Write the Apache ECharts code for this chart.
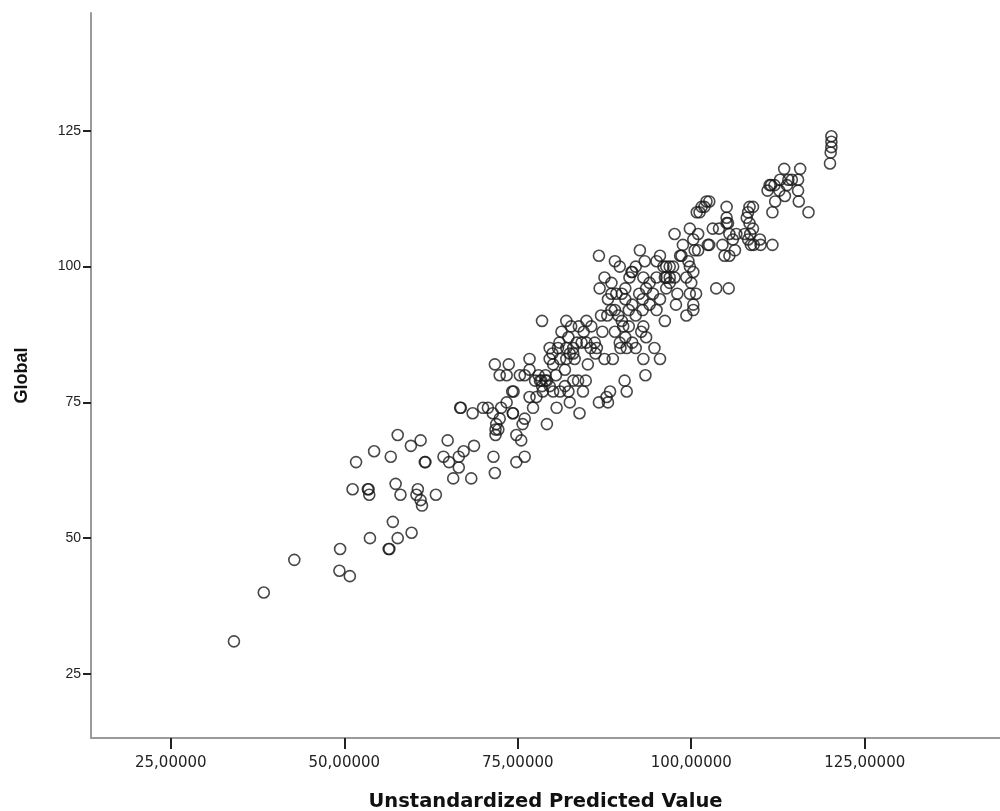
<!DOCTYPE html>
<html>
<head>
<meta charset="utf-8">
<title>Global vs Unstandardized Predicted Value</title>
<script src="https://cdn.jsdelivr.net/npm/echarts@6/dist/echarts.min.js"></script>
<style>
  html, body { margin: 0; padding: 0; background: #fff; }
  #chart { width: 1000px; height: 811px; }
</style>
</head>
<body>
<div id="chart"></div>
<script>
var predicted = [
  34.1, 38.4, 42.8, 49.4, 49.3, 50.8, 53.7, 56.4, 56.5, 57.7, 57.0, 59.7, 51.2, 53.4, 53.5, 53.6,
  57.4, 58.1, 60.6, 60.4, 61.0, 61.2, 63.2, 51.7, 54.3, 56.7, 57.7, 59.6, 61.0, 61.6, 61.7, 64.9,
  64.3, 65.1, 66.5, 67.2, 66.5, 65.7, 68.3, 68.7, 66.7, 66.8, 68.5,
  71.5, 71.7, 74.8, 74.8, 71.8, 71.8, 70.0, 70.7, 72.6, 71.4, 72.4, 71.9, 72.2, 74.3, 74.4, 71.7,
  73.7, 72.4, 73.4, 75.3, 76.0, 76.7, 78.2, 79.2, 79.6, 78.6, 80.1, 81.1, 81.8, 82.3, 83.0, 83.7,
  84.4, 82.5, 83.9, 80.6, 79.2, 77.2, 74.2, 76.7, 77.7, 73.4, 74.3, 76.0, 75.5, 76.0, 75.7, 77.5,
  78.0, 78.4, 79.0, 79.0, 78.5, 80.5,
  78.5, 79.6, 80.8, 82.0, 83.0, 83.2, 82.0, 81.1, 85.1, 84.8, 76.7, 79.6, 80.1, 81.8, 82.0, 82.7,
  81.3, 82.3, 83.5, 84.9, 86.1, 86.4, 84.9, 82.5, 83.0, 81.0, 80.0, 86.7, 87.8, 88.3, 88.0, 87.5,
  88.7, 89.0, 89.7, 90.7, 90.4, 90.7, 87.0, 87.9, 88.5, 85.6, 86.8, 88.5, 89.2, 88.0, 87.5, 88.5,
  86.7, 89.0, 89.7, 87.2, 86.2, 85.5, 84.2, 84.5, 83.8,
  91.5, 91.1, 93.1, 91.4, 92.6, 93.3, 95.0, 95.5, 96.0, 96.9, 95.0, 96.2, 96.9, 96.4, 96.4, 97.4,
  96.4, 96.9, 90.5, 90.0, 90.5, 91.5, 92.5, 93.0, 91.0, 92.0, 89.5, 90.0, 89.0, 90.2, 91.0, 93.1,
  92.8, 93.5, 94.7, 95.5, 93.1, 93.4, 96.2, 95.0, 94.0, 95.5, 97.8, 94.5, 98.0, 97.6, 98.4, 98.8,
  99.6, 99.8, 98.6, 99.3, 100.0, 100.7, 99.8, 100.3, 100.3, 99.3, 97.6, 99.8, 101.0, 100.3, 100.3, 90.5,
  91.5, 89.8, 92.0, 93.0, 94.0, 92.0, 93.5,
  100.8, 101.5, 102.2, 103.1, 102.6, 101.0, 103.6, 105.4, 104.8, 105.5, 102.6, 101.9, 101.2, 105.1, 105.1, 105.1,
  105.3, 105.5, 106.0, 104.5, 106.3, 104.0, 108.4, 108.9, 108.2, 108.0, 108.4, 108.5, 108.2, 109.0, 110.0, 111.7,
  102.4, 100.5, 106.5, 107.7, 108.9, 109.9, 108.6,
  113.4, 115.7, 112.8, 114.0, 115.4, 111.3, 111.0, 112.0, 111.5, 113.5, 115.4, 112.1, 115.5, 111.7, 116.9, 112.7,
  113.8, 114.5, 120.2, 120.2, 120.2, 120.1, 120.0
];
var globalScore = [
  31, 40, 46, 48, 44, 43, 50, 48, 48, 50, 53, 51, 59, 59, 59, 58,
  60, 58, 59, 58, 57, 56, 58, 64, 66, 65, 69, 67, 68, 64, 64, 68,
  65, 64, 65, 66, 63, 61, 61, 67, 74, 74, 73,
  65, 62, 64, 69, 69, 70, 74, 74, 74, 73, 72, 71, 70, 73, 77, 82,
  82, 80, 80, 80, 80, 81, 79, 79, 78, 77, 77, 77, 78, 77, 79, 79,
  77, 75, 73, 74, 71, 74, 77, 76, 76, 75, 73, 72, 68, 65, 71, 79,
  80, 79, 79, 80, 78, 80,
  90, 85, 85, 85, 85, 83, 83, 83, 82, 79, 83, 83, 82, 81, 90, 89,
  88, 87, 86, 86, 86, 85, 90, 84, 84, 86, 84, 75, 76, 77, 75, 83,
  83, 88, 86, 85, 79, 77, 91, 91, 92, 89, 96, 95, 95, 94, 98, 97,
  102, 101, 100, 88, 84, 85, 86, 88, 89,
  99, 98, 98, 99, 103, 101, 101, 102, 100, 100, 98, 98, 98, 96, 100, 100,
  98, 97, 96, 95, 94, 93, 95, 94, 92, 91, 91, 90, 92, 89, 89, 89,
  88, 87, 85, 83, 83, 80, 90, 92, 93, 94, 93, 95, 95, 98, 102, 104,
  101, 100, 102, 98, 97, 95, 95, 93, 92, 91, 106, 107, 106, 105, 99, 87,
  86, 85, 85, 92, 97, 100, 96,
  110, 111, 112, 107, 104, 103, 96, 96, 102, 102, 112, 111, 110, 111, 109, 108,
  108, 106, 105, 104, 103, 107, 111, 111, 110, 109, 108, 106, 105, 104, 104, 104,
  104, 103, 106, 106, 107, 105, 104,
  118, 118, 116, 116, 116, 115, 114, 115, 115, 113, 114, 112, 112, 110, 110, 114,
  115, 116, 124, 123, 122, 121, 119
];
var xTicks = [25, 50, 75, 100, 125];
var yTicks = [25, 50, 75, 100, 125];

var points = [];
for (var i = 0; i < predicted.length; i++) {
  points.push([predicted[i], globalScore[i]]);
}

var chart = echarts.init(document.getElementById('chart'));
chart.setOption({
  animation: false,
  backgroundColor: '#fff',
  grid: { left: 91, right: 0, top: 13, bottom: 73, outerBoundsMode: 'none' },
  xAxis: {
    type: 'value',
    min: 13.5,
    max: 144.5,
    name: 'Unstandardized Predicted Value',
    nameLocation: 'middle',
    nameGap: 54,
    nameTextStyle: { fontFamily: 'DejaVu Sans', fontWeight: 'bold', fontSize: 19.5, color: '#111' },
    splitLine: { show: false },
    axisLine: { show: true, lineStyle: { color: '#9a9a9a', width: 2 } },
    axisTick: { show: true, customValues: xTicks, length: 11, lineStyle: { color: '#222', width: 2 } },
    axisLabel: {
      customValues: xTicks,
      margin: 18,
      fontFamily: 'DejaVu Sans',
      fontSize: 15,
      color: '#222',
      formatter: function (v) { return v.toFixed(5).replace('.', ','); }
    }
  },
  yAxis: {
    type: 'value',
    min: 13.2,
    max: 146.7,
    name: 'Global',
    nameLocation: 'middle',
    nameGap: 60,
    nameTextStyle: { fontFamily: 'Liberation Sans', fontWeight: 'bold', fontSize: 18, color: '#111' },
    splitLine: { show: false },
    axisLine: { show: true, lineStyle: { color: '#9a9a9a', width: 2 } },
    axisTick: { show: true, customValues: yTicks, length: 8, lineStyle: { color: '#222', width: 2 } },
    axisLabel: {
      customValues: yTicks,
      margin: 10,
      fontFamily: 'Liberation Sans',
      fontSize: 14,
      color: '#222'
    }
  },
  series: [{
    type: 'scatter',
    data: points,
    symbol: 'circle',
    symbolSize: 11,
    itemStyle: { color: 'rgba(0,0,0,0)', borderColor: '#1a1a1a', borderWidth: 1.6 }
  }]
});
</script>
</body>
</html>
